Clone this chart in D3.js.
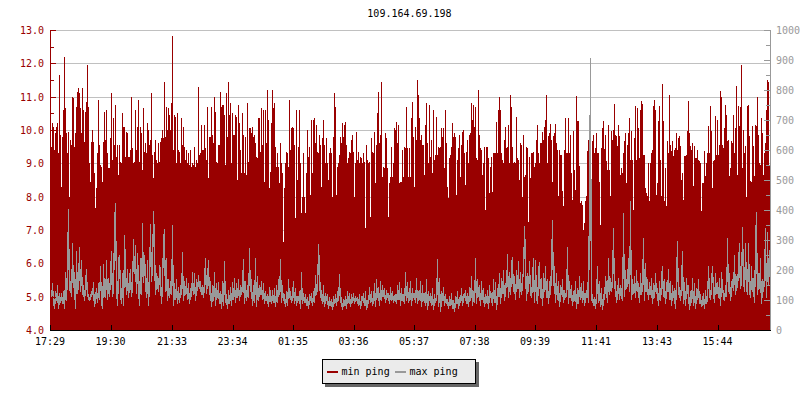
<!DOCTYPE html>
<html><head><meta charset="utf-8">
<script src="https://cdn.jsdelivr.net/npm/d3@7"></script>
<style>
html,body{margin:0;padding:0;background:#fff}
svg{display:block}
text{font-family:"DejaVu Sans Mono",monospace;font-size:10px}
</style></head><body><svg id="c" width="800" height="400"></svg>
<script>
const title="109.164.69.198";
const minPing=[
9.5,9.5,10.2,10.1,9.4,9.9,10.1,10.2,9.3,11.65,9.85,8.3,9.8,10.6,12.2,10.65,9.9,9.3,9.95,8.0,9.7,9.55,11.0,10.95,9.5,9.9,10.7,11.15,11.25,11.1,10.65,9.9,11.25,10.6,9.65,10.55,10.85,11.95,10.7,9.0,8.45,9.65,10.0,9.65,8.7,7.65,8.25,9.3,10.9,9.55,8.95,8.9,8.45,9.65,10.55,9.7,10.6,9.3,8.85,8.85,
9.75,11.1,9.1,10.35,9.55,10.75,9.2,9.55,8.65,9.55,9.05,9.0,10.5,10.1,10.1,9.2,9.95,9.9,9.2,9.2,9.4,11.0,9.45,9.0,9.05,10.6,9.4,10.1,10.9,9.05,10.1,9.9,8.8,10.65,9.35,9.6,9.3,10.2,10.0,9.55,9.7,11.1,9.25,8.55,9.35,9.7,9.1,9.0,9.6,9.05,
9.65,9.75,10.0,9.75,11.45,9.8,10.7,10.0,10.65,10.45,10.0,10.8,12.82,9.4,10.45,10.4,9.0,10.5,9.4,9.35,9.0,10.35,9.55,10.1,9.5,9.1,9.4,9.0,9.3,8.95,9.4,8.9,9.0,8.95,9.5,8.9,9.1,9.0,11.3,9.25,9.3,10.15,9.4,9.4,10.15,9.45,9.1,10.7,8.55,9.8,9.8,10.7,9.85,9.6,11.0,10.55,9.05,9.0,9.55,9.55,
11.15,10.7,10.75,10.75,10.45,8.95,11.1,9.8,11.45,10.45,10.8,9.0,10.5,9.85,9.85,10.45,10.4,8.5,10.75,10.2,9.4,8.7,10.5,9.85,8.7,9.8,8.65,10.8,9.05,10.05,10.05,9.9,10.1,9.8,9.85,9.6,9.2,9.15,10.35,10.35,9.35,10.65,9.55,10.6,8.45,10.6,9.6,11.2,10.3,8.25,
8.75,10.2,11.2,10.65,10.8,9.5,8.9,9.3,8.9,8.4,9.6,9.0,8.7,6.65,8.25,9.0,9.35,9.3,8.9,10.9,9.4,10.05,10.1,10.05,9.55,7.35,10.6,8.5,9.5,10.6,9.0,7.5,8.0,9.3,8.0,7.5,8.7,10.0,9.2,9.5,8.05,10.3,8.7,10.3,10.35,9.6,10.15,9.35,9.3,9.85,9.55,8.3,9.75,10.3,9.55,9.0,9.75,9.0,8.5,9.3,
9.45,9.3,8.0,9.8,11.1,10.7,8.05,8.9,9.0,9.25,9.8,9.6,10.2,9.8,10.15,10.25,9.55,9.0,9.15,9.35,9.3,9.7,9.85,9.35,8.0,9.0,9.95,9.1,9.35,9.0,9.2,9.15,9.0,9.3,9.05,7.05,9.55,9.1,9.0,9.05,7.4,9.75,9.35,9.3,9.95,8.4,9.55,10.5,11.15,9.6,9.85,11.45,8.6,8.9,8.85,9.9,9.75,8.85,7.4,8.4,
8.6,9.5,8.6,9.0,10.05,10.0,10.25,9.6,10.15,8.4,8.45,8.45,9.4,8.6,9.5,9.45,10.7,9.45,8.6,9.45,8.6,10.35,10.85,9.8,8.3,10.1,9.7,11.5,11.05,10.35,9.7,9.85,9.55,9.55,8.65,10.15,10.8,9.6,9.0,10.75,9.2,9.7,8.7,10.6,9.1,9.25,10.4,9.25,9.5,9.45,9.5,10.05,9.8,10.05,8.85,10.6,9.6,8.3,7.95,9.15,
9.25,9.5,10.2,9.8,9.9,9.8,8.05,9.1,9.45,9.85,8.6,9.55,9.95,10.0,9.3,8.35,9.35,9.7,9.0,9.85,9.9,10.8,10.3,10.75,10.1,10.7,9.15,9.1,11.2,9.85,9.45,9.4,8.65,9.0,9.5,7.6,9.5,9.5,9.15,8.1,8.9,9.2,8.15,9.3,9.3,9.3,10.25,9.3,10.6,11.0,10.6,9.3,9.1,9.0,9.7,10.1,9.45,9.5,10.15,9.0,
11.05,10.7,9.5,9.0,9.05,9.0,10.4,9.15,9.1,8.5,9.6,9.55,8.0,9.85,8.6,8.65,9.5,9.45,7.25,9.2,8.55,9.3,9.3,9.35,8.9,9.0,9.7,10.15,9.3,9.0,
9.6,9.6,9.95,9.7,10.1,10.3,11.05,9.0,9.83,9.91,10.18,9.71,8.44,9.83,9.91,10.18,9.61,9.41,8.01,9.41,9.26,9.26,8.16,7.71,9.41,10.35,9.31,9.31,10.36,9.31,9.86,8.71,7.91,9.96,8.81,8.21,11.03,10.26,10.26,8.91,7.81,7.86,7.76,6.99,7.21,7.88,8.03,9.36,9.71,9.36,7.11,7.11,9.66,9.86,9.31,9.46,9.91,9.31,9.31,8.44,
7.16,9.46,10.06,10.26,9.43,9.86,9.06,8.81,10.16,8.81,8.01,9.96,9.71,10.01,10.78,9.86,9.81,9.51,10.16,9.81,8.66,8.86,8.71,9.31,9.66,9.91,8.41,9.56,9.91,10.36,9.11,9.96,9.11,7.59,9.76,10.73,9.09,10.66,10.06,9.16,10.61,10.86,10.79,9.26,9.26,8.26,8.11,8.01,9.01,7.86,9.01,9.31,9.41,10.71,10.91,10.61,8.04,8.41,10.26,10.71,
9.11,8.01,11.39,10.26,7.86,8.86,7.71,9.66,9.31,11.06,9.56,9.36,9.66,9.21,9.41,9.46,9.91,9.41,9.76,9.81,9.51,8.51,8.71,7.91,9.21,9.21,9.26,9.96,10.86,9.91,9.51,9.41,9.61,8.31,9.51,9.16,9.16,9.41,9.11,9.06,9.01,7.56,8.41,8.41,9.36,8.61,9.01,9.31,10.11,9.31,10.71,9.96,8.26,9.06,9.11,10.41,9.26,10.31,9.26,9.56,
11.16,10.99,9.56,9.46,10.06,10.76,10.46,9.66,9.71,8.61,8.86,9.66,9.61,10.46,9.31,10.06,11.31,8.66,10.71,10.11,10.69,11.96,8.86,10.01,9.31,9.51,7.98,10.73,10.76,9.81,8.46,8.43,10.11,9.51,8.61,10.16,10.13,10.99,9.86,9.01,8.96,10.36,9.91,8.66,9.31,9.61,10.59,11.51,11.45,8.91];
const maxPing=[
120,110,155,105,75,130,100,150,75,125,95,125,90,130,75,195,100,250,404,135,
165,115,290,145,195,75,263,125,170,277,130,235,120,150,100,165,203,115,120,100,
110,130,120,160,80,115,140,95,155,105,213,110,75,220,125,110,233,105,175,115,
200,263,115,150,362,423,170,85,240,250,150,90,190,85,317,225,120,205,110,180,
203,115,160,303,190,283,125,256,175,85,240,120,357,160,250,190,110,235,85,200,
354,165,240,398,312,120,190,173,130,217,200,90,180,300,337,130,240,100,170,110,
165,120,351,85,155,105,170,90,145,95,150,120,260,100,165,120,175,105,155,90,
140,115,195,120,190,100,170,135,185,140,165,120,150,110,175,240,125,180,235,120,
165,80,150,100,195,85,155,110,160,90,130,75,165,85,230,95,120,75,135,90,
145,85,160,105,175,95,155,110,170,100,150,120,165,237,90,165,100,150,110,273,
130,170,85,150,95,240,80,180,100,150,120,165,105,155,90,130,100,120,80,145,
120,90,135,95,140,80,150,95,170,120,237,95,150,100,120,80,130,85,170,110,
130,95,120,165,90,140,85,115,100,130,75,193,90,125,95,120,85,110,75,120,
100,125,85,130,95,184,120,155,288,210,110,135,90,150,80,125,100,120,75,110,
85,105,70,115,90,120,85,130,100,187,95,110,70,105,85,115,75,130,95,125,
80,120,95,125,90,115,100,110,85,120,75,115,100,125,85,130,70,100,90,145,
95,130,85,105,155,80,170,110,145,85,165,100,150,115,140,95,135,110,125,90,
145,100,130,95,115,120,90,150,105,160,85,140,100,120,90,193,100,160,95,115,
165,85,140,110,125,95,175,90,130,105,165,80,150,100,125,85,170,70,130,100,
125,85,140,70,120,95,110,237,80,175,65,130,100,145,85,120,90,105,75,115,
85,125,75,100,65,115,90,130,75,110,95,140,85,120,110,135,90,125,80,145,
100,181,85,130,95,240,90,170,115,150,85,165,105,140,80,120,95,135,75,150,
110,125,85,170,95,160,70,140,115,190,90,175,125,200,100,155,145,253,110,195,
120,225,243,130,180,105,200,140,229,110,195,120,170,205,348,257,100,190,130,230,
135,110,180,240,95,235,130,90,200,228,110,175,85,190,130,215,110,170,90,165,
120,240,368,150,215,95,190,105,165,80,150,120,170,95,135,110,130,277,90,165,
110,150,85,130,100,165,75,140,90,180,105,155,95,165,85,125,110,160,95,529,
905,100,120,85,110,75,130,212,95,165,80,140,70,120,105,180,150,95,239,120,
175,130,190,340,140,165,95,125,175,105,150,130,100,390,115,200,140,165,240,130,
429,105,170,125,180,110,200,130,155,95,190,120,165,307,100,225,130,170,105,160,
120,175,90,155,110,190,125,140,85,165,100,180,215,115,170,90,160,130,205,105,
165,85,150,110,140,75,190,296,120,145,100,170,264,90,160,85,175,125,150,70,
130,95,175,85,155,75,140,105,170,90,120,80,100,125,75,135,90,115,215,130,
105,165,215,140,95,190,125,160,110,175,85,195,145,120,100,150,115,307,130,190,
100,155,170,135,251,120,180,145,230,290,140,175,343,200,130,290,165,120,290,150,
110,215,130,175,95,305,394,120,190,140,240,90,170,130,200,340,110,327,150,268];
const leftTicks=[4,5,6,7,8,9,10,11,12,13];
const leftMinor=[4.5,5.5,6.5,7.5,8.5,9.5,10.5,11.5,12.5];
const rightTicks=[0,100,200,300,400,500,600,700,800,900,1000];
const rightMinor=[50,150,250,350,450,550,650,750,850,950];
const timeMinutes=[0,121,244,365,486,607,728,849,970,1092,1214,1335];
const timeLabels=["17:29","19:30","21:33","23:34","01:35","03:36","05:37","07:38","09:39","11:41","13:43","15:44"];
const minutesPerPoint=2;
const legendNames=["min ping","max ping"];
const RED="#990000",GREY="#999999";

const svg=d3.select("#c");
const L=50,R=770,T=30,B=330;
const x=d3.scaleLinear().domain([0,1440]).range([L,R]);
const yMin=d3.scaleLinear().domain([4,13]).range([B,T]);
const yMax=d3.scaleLinear().domain([0,1000]).range([B,T]);
const snap=v=>Math.round(v)+.5;

// grid
svg.append("g").selectAll("line").data(leftTicks).join("line")
 .attr("x1",L).attr("x2",R).attr("y1",d=>snap(yMin(d))).attr("y2",d=>snap(yMin(d)))
 .attr("stroke","#c0c0c0").attr("shape-rendering","crispEdges");

// min ping bars
svg.append("g").attr("shape-rendering","crispEdges").selectAll("rect").data(minPing).join("rect")
 .attr("x",(d,i)=>Math.round(x(i*minutesPerPoint))).attr("width",1)
 .attr("y",d=>Math.round(yMin(d))).attr("height",d=>B-Math.round(yMin(d))+1)
 .attr("fill",RED);

// max ping trace: one pixel column per sample, joined to its neighbours
const span=(d,i)=>{
 const p=i?maxPing[i-1]:d, n=i<maxPing.length-1?maxPing[i+1]:d;
 const hi=Math.max(d,(d+p)/2,(d+n)/2);
 const lo=d+(Math.min(d,p,n)-d)*.75;
 return [hi,lo];
};
svg.append("g").attr("shape-rendering","crispEdges").selectAll("rect").data(maxPing).join("rect")
 .attr("x",(d,i)=>Math.round(x(i*minutesPerPoint))).attr("width",1)
 .attr("y",(d,i)=>Math.round(yMax(span(d,i)[0])))
 .attr("height",(d,i)=>Math.round(yMax(span(d,i)[1]))-Math.round(yMax(span(d,i)[0]))+1)
 .attr("fill",GREY);

// axes
function yAxis(scale,ticks,minor,xp,dir,color,fmt,anchor,lx){
 const g=svg.append("g").attr("shape-rendering","crispEdges");
 g.append("line").attr("x1",xp+.5).attr("x2",xp+.5).attr("y1",T).attr("y2",B+1).attr("stroke",color);
 g.selectAll(".ma").data(ticks).join("line").attr("x1",xp).attr("x2",xp+dir*6)
  .attr("y1",d=>snap(scale(d))).attr("y2",d=>snap(scale(d))).attr("stroke",color);
 g.selectAll(".mi").data(minor).join("line").attr("x1",xp).attr("x2",xp+dir*4)
  .attr("y1",d=>snap(scale(d))).attr("y2",d=>snap(scale(d))).attr("stroke",color);
 svg.append("g").selectAll("text").data(ticks).join("text").attr("x",lx).attr("y",d=>Math.round(scale(d))+4)
  .attr("text-anchor",anchor).attr("fill",color).text(fmt);
}
yAxis(yMin,leftTicks,leftMinor,L,1,RED,d3.format(".1f"),"end",44);
yAxis(yMax,rightTicks,rightMinor,R,-1,GREY,d=>d,"start",776);

const bx=svg.append("g");
bx.append("line").attr("x1",L).attr("x2",R+1).attr("y1",B+.5).attr("y2",B+.5).attr("stroke","#000").attr("shape-rendering","crispEdges");
bx.selectAll(".t").data(timeMinutes).join("line").attr("x1",d=>snap(x(d))).attr("x2",d=>snap(x(d)))
 .attr("y1",B-5).attr("y2",B).attr("stroke","#000").attr("shape-rendering","crispEdges");
bx.selectAll("text").data(timeMinutes).join("text").attr("x",d=>x(d)).attr("y",345)
 .attr("text-anchor","middle").attr("fill","#000").text((d,i)=>timeLabels[i]);

// title
svg.append("text").attr("x",409.5).attr("y",17).attr("text-anchor","middle").attr("fill","#000").text(title);

// legend
const lg=svg.append("g").attr("shape-rendering","crispEdges");
lg.append("rect").attr("x",325).attr("y",362).attr("width",154).attr("height",25).attr("fill","#666");
lg.append("rect").attr("x",322.5).attr("y",359.5).attr("width",153).attr("height",24).attr("fill","#ebebeb").attr("stroke","#000");
[RED,GREY].forEach((c,i)=>{
 const x0=i?395:327;
 lg.append("rect").attr("x",x0).attr("y",371).attr("width",11).attr("height",2).attr("fill",c);
 svg.append("text").attr("x",i?409.5:341.5).attr("y",375).attr("fill","#000").text(legendNames[i]);
});
</script></body></html>
